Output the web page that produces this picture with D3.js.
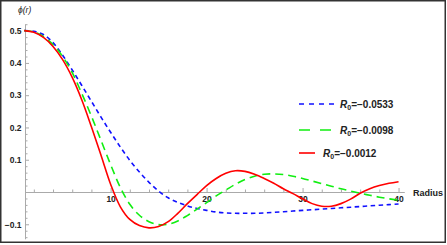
<!DOCTYPE html>
<html lang="en">
<head>
<meta charset="utf-8">
<script src="https://d3js.org/d3.v7.min.js"></script>
<style>
  body { margin: 0; background: #fff; }
  svg { display: block; font-family: "Liberation Sans", Arial, sans-serif; }
  .tick text { font-weight: bold; fill: #222; }
</style>
</head>
<body>
<svg width="447" height="245"></svg>
<script>
// radius samples
var radius = d3.range(1, 41);
// phi(r) for each R0
var phiA = [0.500, 0.498, 0.488, 0.463, 0.424, 0.378, 0.330, 0.281, 0.232, 0.185,
            0.140, 0.098, 0.062, 0.030, 0.003, -0.018, -0.032, -0.043, -0.051, -0.057,
            -0.062, -0.065, -0.066, -0.066, -0.066, -0.065, -0.063, -0.061, -0.059, -0.057,
            -0.055, -0.053, -0.051, -0.049, -0.047, -0.045, -0.043, -0.041, -0.039, -0.037];
var phiB = [0.500, 0.496, 0.482, 0.457, 0.420, 0.370, 0.305, 0.235, 0.160, 0.085,
            0.015, -0.038, -0.072, -0.092, -0.101, -0.100, -0.090, -0.073, -0.053, -0.033,
            -0.012, 0.006, 0.024, 0.039, 0.049, 0.055, 0.056, 0.054, 0.049, 0.042,
            0.034, 0.026, 0.018, 0.010, 0.003, -0.004, -0.010, -0.016, -0.021, -0.025];
var phiC = [0.500, 0.495, 0.479, 0.451, 0.410, 0.355, 0.285, 0.202, 0.114, 0.024,
            -0.045, -0.085, -0.104, -0.111, -0.107, -0.092, -0.066, -0.036, -0.008, 0.020,
            0.042, 0.058, 0.066, 0.064, 0.055, 0.042, 0.027, 0.010, -0.005, -0.021,
            -0.036, -0.044, -0.044, -0.036, -0.022, -0.004, 0.010, 0.020, 0.027, 0.032];
var legendLabels = ["\u22120.0533", "\u22120.0098", "\u22120.0012"];
var xTicks = [10, 20, 30, 40];
var yTicks = [-0.1, 0.1, 0.2, 0.3, 0.4, 0.5];

var svg = d3.select("svg");

// outer frame
svg.append("rect")
  .attr("x", 0.75).attr("y", 0.75)
  .attr("width", 444.5).attr("height", 241.5)
  .attr("fill", "none").attr("stroke", "#333").attr("stroke-width", 1.5);

var x = d3.scaleLinear().domain([1.08, 40.6]).range([25, 404.3]);
var y = d3.scaleLinear().domain([-0.145, 0.52]).range([238.8, 24.2]);

// minor ticks
svg.append("g")
  .attr("transform", "translate(0," + y(0) + ")")
  .call(d3.axisBottom(x).tickValues(d3.range(2, 41, 2).filter(function (d) { return d % 10 != 0; }))
    .tickSize(-2.5).tickFormat(""))
  .call(function (g) { g.select(".domain").remove(); g.selectAll("line").attr("stroke", "#aaa"); });
svg.append("g")
  .attr("transform", "translate(" + x(1.08) + ",0)")
  .call(d3.axisLeft(y).tickValues(d3.range(-14, 53, 2).map(function (d) { return d / 100; })
      .filter(function (d) { return Math.abs(Math.round(d * 100) % 10) != 0; }))
    .tickSize(-2.5).tickFormat(""))
  .call(function (g) { g.select(".domain").remove(); g.selectAll("line").attr("stroke", "#aaa"); });

// x axis
svg.append("g")
  .attr("transform", "translate(0," + y(0) + ")")
  .call(d3.axisBottom(x).tickValues(xTicks).tickSize(-4).tickPadding(4).tickSizeOuter(0))
  .call(function (g) {
    g.select(".domain").attr("stroke", "#aaa");
    g.selectAll("line").attr("stroke", "#aaa");
    g.selectAll("text").attr("font-size", "8.5px");
  });

// y axis
svg.append("g")
  .attr("transform", "translate(" + x(1.08) + ",0)")
  .call(d3.axisLeft(y).tickValues(yTicks).tickSize(-4).tickPadding(3.5).tickSizeOuter(0)
    .tickFormat(function (d) { return d < 0 ? "\u2212" + Math.abs(d) : d; }))
  .call(function (g) {
    g.select(".domain").attr("stroke", "#aaa");
    g.selectAll("line").attr("stroke", "#aaa");
    g.selectAll("text").attr("font-size", "8.5px");
  });

// axis labels
svg.append("text").attr("x", 413).attr("y", 196).attr("font-size", "9px")
  .attr("font-weight", "bold").attr("fill", "#222").text("Radius");
svg.append("text").attr("x", 18).attr("y", 13).attr("font-size", "8.5px")
  .attr("font-style", "italic").attr("fill", "#222").text("\u03d5(r)");

// curves
var series = [
  { values: phiA, color: "#1010ff", dash: "4.5,3.5" },
  { values: phiB, color: "#11ee11", dash: "8,5" },
  { values: phiC, color: "#ff0000", dash: null }
];
var line = d3.line()
  .x(function (d) { return x(d[0]); })
  .y(function (d) { return y(d[1]); })
  .curve(d3.curveCatmullRom);

series.forEach(function (s) {
  svg.append("path")
    .datum(radius.map(function (r, i) { return [r, s.values[i]]; }))
    .attr("fill", "none")
    .attr("stroke", s.color)
    .attr("stroke-width", 1.6)
    .attr("stroke-dasharray", s.dash)
    .attr("d", line);
});

// legend
var legendRows = [
  { y: 104, x1: 299, x2: 334, tx: 340, dash: "5,5" },
  { y: 130, x1: 299, x2: 331, tx: 340, dash: "11,10" },
  { y: 153, x1: 299, x2: 315, tx: 323, dash: null }
];
legendRows.forEach(function (row, i) {
  svg.append("line")
    .attr("x1", row.x1).attr("x2", row.x2).attr("y1", row.y).attr("y2", row.y)
    .attr("stroke", series[i].color).attr("stroke-width", 1.6)
    .attr("stroke-dasharray", row.dash);
  var t = svg.append("text").attr("x", row.tx).attr("y", row.y + 3.5)
    .attr("font-size", "10px").attr("font-weight", "bold").attr("fill", "#222");
  t.append("tspan").attr("font-style", "italic").text("R");
  t.append("tspan").attr("font-size", "7px").attr("dy", 2).text("0");
  t.append("tspan").attr("dy", -2).text("=" + legendLabels[i]);
});
</script>
</body>
</html>
